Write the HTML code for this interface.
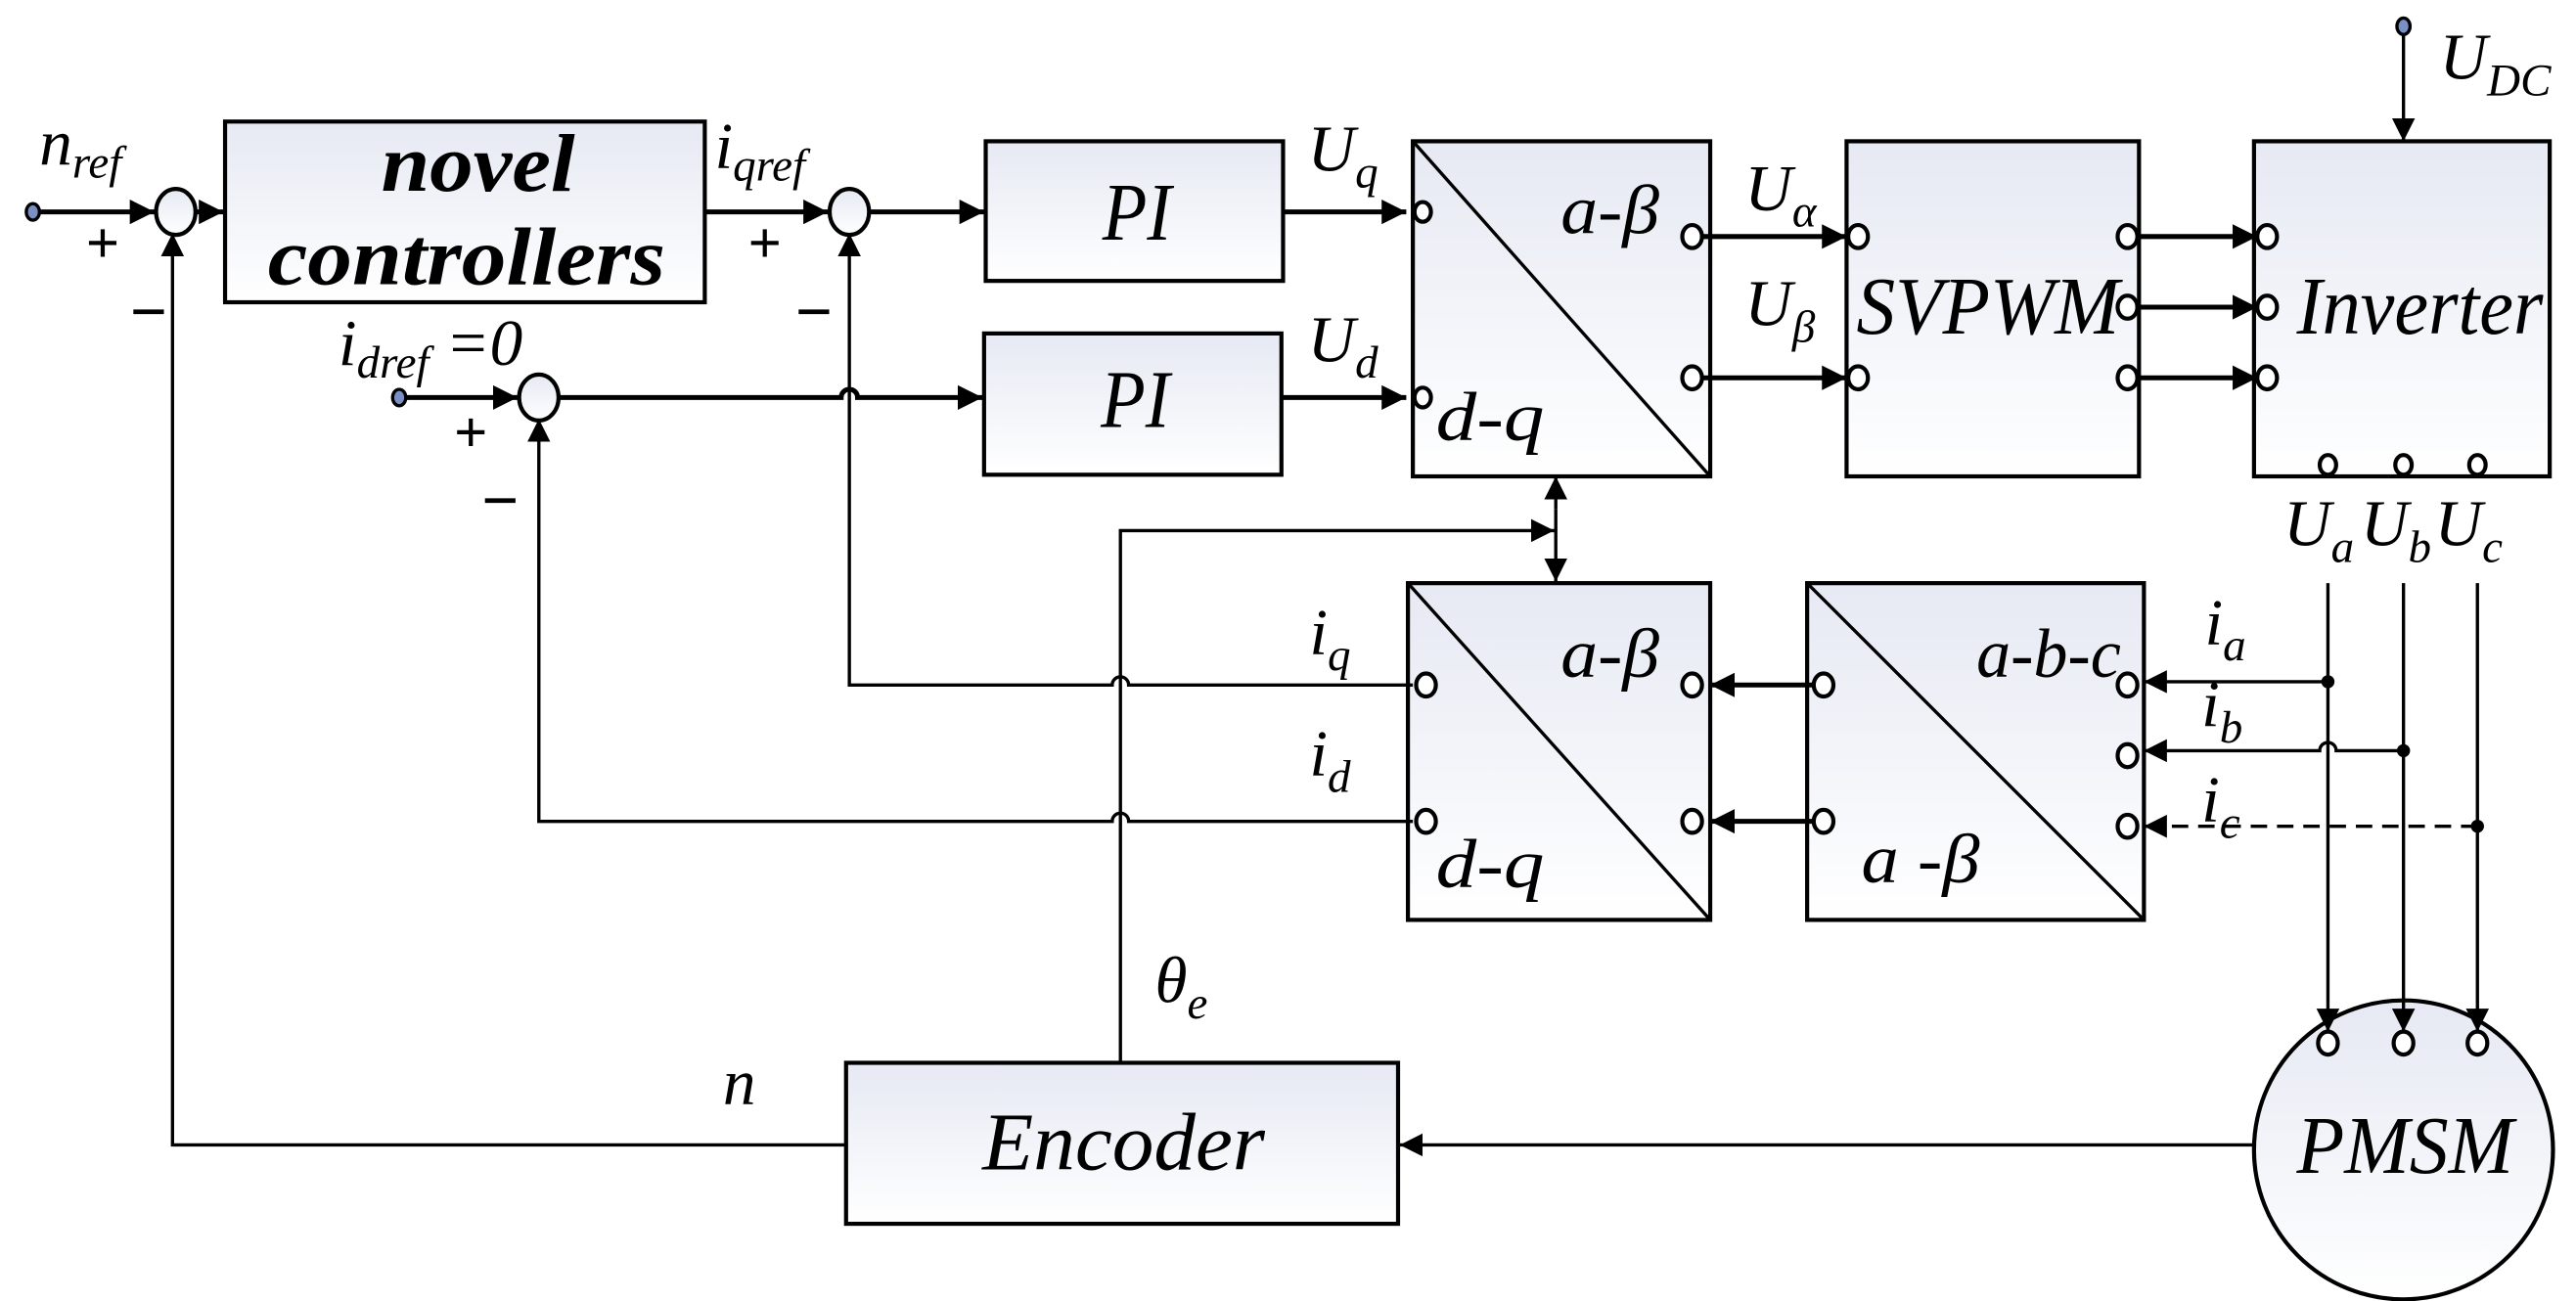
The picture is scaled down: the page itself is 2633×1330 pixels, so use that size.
<!DOCTYPE html>
<html><head><meta charset="utf-8"><style>
html,body{margin:0;padding:0;background:#fff;}
svg{display:block;}
text{font-family:"Liberation Serif",serif;font-style:italic;fill:#000;}
</style></head><body>
<svg width="2633" height="1330" viewBox="0 0 1568 792" preserveAspectRatio="none" xmlns="http://www.w3.org/2000/svg">
<defs>
<linearGradient id="g" x1="0" y1="0" x2="0" y2="1"><stop offset="0" stop-color="#e6e9f3"/><stop offset="1" stop-color="#ffffff"/></linearGradient>
<marker id="a" viewBox="0 0 10 10" refX="10" refY="5" markerWidth="5" markerHeight="5" orient="auto-start-reverse" markerUnits="strokeWidth"><path d="M0,0 L10,5 L0,10 z" fill="#000"/></marker>
<marker id="b" viewBox="0 0 10 10" refX="10" refY="5" markerWidth="7" markerHeight="7" orient="auto-start-reverse" markerUnits="strokeWidth"><path d="M0,0 L10,5 L0,10 z" fill="#000"/></marker>
</defs>
<g stroke="#000" stroke-width="2.5" fill="url(#g)">
<rect x="137" y="74" width="292" height="110"/>
<rect x="600" y="86" width="181" height="85"/>
<rect x="599" y="203" width="181" height="86"/>
<rect x="860" y="86" width="181" height="204"/>
<rect x="1124" y="86" width="178" height="204"/>
<rect x="1372" y="86" width="180" height="204"/>
<rect x="857" y="355" width="184" height="205"/>
<rect x="1100" y="355" width="205" height="205"/>
<rect x="515" y="647" width="336" height="98"/>
<ellipse cx="1463" cy="700" rx="91" ry="91"/>
<ellipse cx="107" cy="129" rx="12" ry="14"/>
<ellipse cx="517" cy="129" rx="12" ry="14"/>
<ellipse cx="328" cy="242" rx="12" ry="14"/>
</g>
<g stroke="#000" stroke-width="2" fill="none">
<line x1="860" y1="86" x2="1041" y2="290"/>
<line x1="857" y1="355" x2="1041" y2="560"/>
<line x1="1100" y1="355" x2="1305" y2="560"/>
</g>
<g stroke="#000" stroke-width="3" fill="none">
<line x1="24" y1="129" x2="94" y2="129" marker-end="url(#a)"/>
<line x1="119" y1="129" x2="136" y2="129" marker-end="url(#a)"/>
<line x1="429" y1="129" x2="504" y2="129" marker-end="url(#a)"/>
<line x1="529" y1="129" x2="599" y2="129" marker-end="url(#a)"/>
<line x1="247" y1="242" x2="315" y2="242" marker-end="url(#a)"/>
<path d="M340,242 H512 a5,5 0 0 1 10,0 H598" marker-end="url(#a)"/>
<line x1="781" y1="129" x2="856" y2="129" marker-end="url(#a)"/>
<line x1="780" y1="242" x2="856" y2="242" marker-end="url(#a)"/>
<line x1="1036" y1="144" x2="1124" y2="144" marker-end="url(#a)"/>
<line x1="1036" y1="230" x2="1124" y2="230" marker-end="url(#a)"/>
<line x1="1300" y1="144" x2="1374" y2="144" marker-end="url(#a)"/>
<line x1="1300" y1="187" x2="1374" y2="187" marker-end="url(#a)"/>
<line x1="1300" y1="230" x2="1374" y2="230" marker-end="url(#a)"/>
<line x1="1105" y1="417" x2="1041" y2="417" marker-end="url(#a)"/>
<line x1="1105" y1="500" x2="1041" y2="500" marker-end="url(#a)"/>
</g>
<g stroke="#000" stroke-width="2" fill="none">
<line x1="1463" y1="20" x2="1463" y2="86" marker-end="url(#b)"/>
<line x1="1417" y1="355" x2="1417" y2="628" marker-end="url(#b)"/>
<line x1="1463" y1="355" x2="1463" y2="628" marker-end="url(#b)"/>
<line x1="1508" y1="355" x2="1508" y2="628" marker-end="url(#b)"/>
<line x1="1417" y1="415" x2="1305" y2="415" marker-end="url(#b)"/>
<path d="M1463,457 H1422 a5,5 0 0 0 -10,0 H1305" marker-end="url(#b)"/>
<path d="M1508,503 H1305" stroke-dasharray="10,6" marker-end="url(#b)"/>
<line x1="1373" y1="697" x2="852" y2="697" marker-end="url(#b)"/>
<path d="M515,697 H105 V142" marker-end="url(#b)"/>
<path d="M860,417 H687 a5,5 0 0 0 -10,0 H517 V142" marker-end="url(#b)"/>
<path d="M860,500 H687 a5,5 0 0 0 -10,0 H328 V255" marker-end="url(#b)"/>
<path d="M682,647 V323 H946" marker-end="url(#b)"/>
<line x1="947" y1="310" x2="947" y2="290" marker-end="url(#b)"/>
<line x1="947" y1="310" x2="947" y2="354" marker-end="url(#b)"/>
</g>
<g fill="#7a8fc4" stroke="#000" stroke-width="2">
<ellipse cx="20" cy="129" rx="4" ry="5"/>
<ellipse cx="243" cy="242" rx="4" ry="5"/>
<ellipse cx="1463" cy="16" rx="4" ry="5"/>
</g>
<g fill="#fff" stroke="#000" stroke-width="2.5">
<ellipse cx="866" cy="129" rx="5" ry="6"/><ellipse cx="866" cy="242" rx="5" ry="6"/>
<ellipse cx="1030" cy="144" rx="6" ry="7"/><ellipse cx="1030" cy="230" rx="6" ry="7"/>
<ellipse cx="1131" cy="144" rx="6" ry="7"/><ellipse cx="1131" cy="230" rx="6" ry="7"/>
<ellipse cx="1295" cy="144" rx="6" ry="7"/><ellipse cx="1295" cy="187" rx="6" ry="7"/><ellipse cx="1295" cy="230" rx="6" ry="7"/>
<ellipse cx="1380" cy="144" rx="6" ry="7"/><ellipse cx="1380" cy="187" rx="6" ry="7"/><ellipse cx="1380" cy="230" rx="6" ry="7"/>
<ellipse cx="1417" cy="283" rx="5" ry="6"/><ellipse cx="1463" cy="283" rx="5" ry="6"/><ellipse cx="1508" cy="283" rx="5" ry="6"/>
<ellipse cx="868" cy="417" rx="6" ry="7"/><ellipse cx="868" cy="500" rx="6" ry="7"/>
<ellipse cx="1030" cy="417" rx="6" ry="7"/><ellipse cx="1030" cy="500" rx="6" ry="7"/>
<ellipse cx="1110" cy="417" rx="6" ry="7"/><ellipse cx="1110" cy="500" rx="6" ry="7"/>
<ellipse cx="1295" cy="417" rx="6" ry="7"/><ellipse cx="1295" cy="460" rx="6" ry="7"/><ellipse cx="1295" cy="503" rx="6" ry="7"/>
<ellipse cx="1417" cy="635" rx="6" ry="7"/><ellipse cx="1463" cy="635" rx="6" ry="7"/><ellipse cx="1508" cy="635" rx="6" ry="7"/>
</g>
<g fill="#000"><circle cx="1417" cy="415" r="4"/><circle cx="1463" cy="457" r="4"/><circle cx="1508" cy="503" r="4"/></g>
<g font-size="50" lengthAdjust="spacingAndGlyphs">
<text x="232" y="116" font-weight="bold" textLength="118" lengthAdjust="spacingAndGlyphs">novel</text>
<text x="163" y="173" font-weight="bold" textLength="242" lengthAdjust="spacingAndGlyphs">controllers</text>
<text x="671" y="146" textLength="42" lengthAdjust="spacingAndGlyphs">PI</text>
<text x="670" y="260" textLength="42" lengthAdjust="spacingAndGlyphs">PI</text>
<text x="1130" y="203" textLength="160" lengthAdjust="spacingAndGlyphs">SVPWM</text>
<text x="1398" y="203" textLength="150" lengthAdjust="spacingAndGlyphs">Inverter</text>
<text x="598" y="712" textLength="172" lengthAdjust="spacingAndGlyphs">Encoder</text>
<text x="1398" y="714" textLength="132" lengthAdjust="spacingAndGlyphs">PMSM</text>
</g>
<g font-size="42">
<text x="950" y="142" textLength="60" lengthAdjust="spacingAndGlyphs">a-β</text>
<text x="874" y="268" textLength="66" lengthAdjust="spacingAndGlyphs">d-q</text>
<text x="950" y="412" textLength="60" lengthAdjust="spacingAndGlyphs">a-β</text>
<text x="874" y="540" textLength="66" lengthAdjust="spacingAndGlyphs">d-q</text>
<text x="1203" y="412" textLength="88" lengthAdjust="spacingAndGlyphs">a-b-c</text>
<text x="1133" y="537" textLength="72" lengthAdjust="spacingAndGlyphs">a -β</text>
</g>
<g font-size="40">
<text x="24" y="100">n<tspan font-size="28" dy="8">ref</tspan></text>
<text x="435" y="102">i<tspan font-size="28" dy="8">qref</tspan></text>
<text x="206" y="222">i<tspan font-size="28" dy="8">dref</tspan><tspan dy="-8"> =0</tspan></text>
<text x="796" y="104">U<tspan font-size="28" dy="10">q</tspan></text>
<text x="796" y="220">U<tspan font-size="28" dy="10">d</tspan></text>
<text x="1062" y="128">U<tspan font-size="28" dy="10">α</tspan></text>
<text x="1062" y="198">U<tspan font-size="28" dy="10">β</tspan></text>
<text x="1485" y="48">U<tspan font-size="28" dy="10">DC</tspan></text>
<text x="1390" y="332">U<tspan font-size="28" dy="10">a</tspan></text>
<text x="1437" y="332">U<tspan font-size="28" dy="10">b</tspan></text>
<text x="1482" y="332">U<tspan font-size="28" dy="10">c</tspan></text>
<text x="797" y="398">i<tspan font-size="28" dy="10">q</tspan></text>
<text x="797" y="472">i<tspan font-size="28" dy="10">d</tspan></text>
<text x="1342" y="392">i<tspan font-size="28" dy="10">a</tspan></text>
<text x="1340" y="442">i<tspan font-size="28" dy="10">b</tspan></text>
<text x="1340" y="500">i<tspan font-size="28" dy="10">c</tspan></text>
<text x="703" y="610">θ<tspan font-size="28" dy="10">e</tspan></text>
<text x="440" y="672">n</text>
<text x="52" y="160" font-weight="bold" font-style="normal" font-size="36">+</text>
<text x="455" y="160" font-weight="bold" font-style="normal" font-size="36">+</text>
<text x="276" y="275" font-weight="bold" font-style="normal" font-size="36">+</text>
<text x="78" y="203" font-weight="bold" font-style="normal">−</text>
<text x="483" y="203" font-weight="bold" font-style="normal">−</text>
<text x="292" y="318" font-weight="bold" font-style="normal">−</text>
</g>
</svg>
</body></html>
